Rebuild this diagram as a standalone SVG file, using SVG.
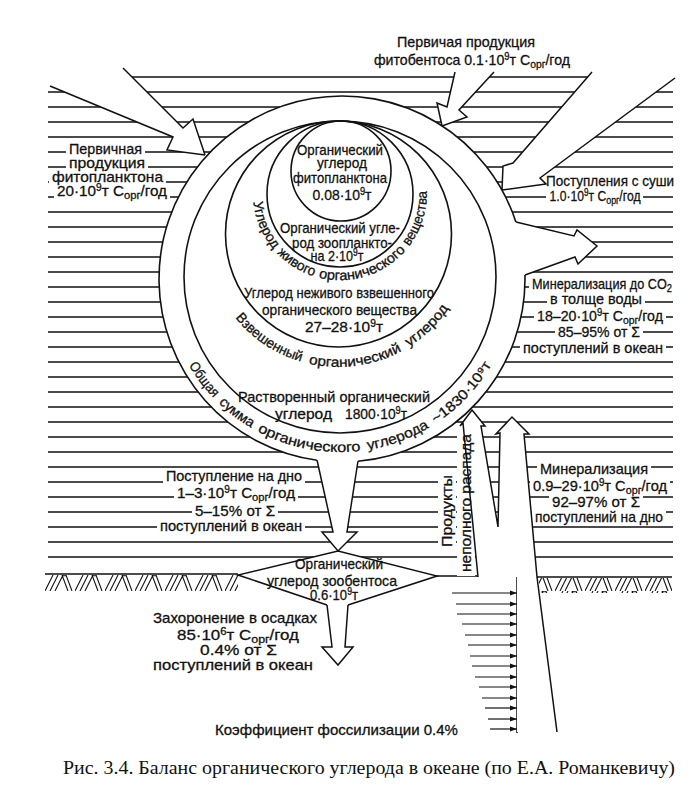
<svg xmlns="http://www.w3.org/2000/svg" width="694" height="787" viewBox="0 0 694 787">
<style>
.w{stroke:#111;stroke-width:1.3;fill:none}
.ln{stroke:#111;stroke-width:1.5;fill:none;stroke-linejoin:miter}
.wf{fill:#fff;stroke:none}
.cr{fill:none;stroke:#111;stroke-width:1.6}
.bg{fill:#fff}
.t{font-family:"Liberation Sans","DejaVu Sans",sans-serif;font-size:15px;fill:#111;stroke:#111;stroke-width:0.3}
.p{font-size:14px}
.m{text-anchor:middle}
.sup{font-size:10px}
.sub{font-size:11px}
.cap{font-family:"Liberation Serif","Times New Roman",serif;font-size:18px;fill:#111}
.ht{stroke:#111;stroke-width:1.1;fill:none}
.fa{stroke:#111;stroke-width:1.2}
</style>
<defs>
<pattern id="soil" patternUnits="userSpaceOnUse" x="45" y="575" width="30" height="16">
<path class="ht" d="M0,16 L8,0 M5,16 L13,0 M10,16 L18,0 M17,0 L23,16 M21,0 L27,16 M17,0.7 H21"/>
</pattern>
<marker id="ah" markerWidth="7" markerHeight="6" refX="7" refY="3" orient="auto" markerUnits="userSpaceOnUse"><path d="M0,0.5 L7,3 L0,5.5z" fill="#111"/></marker>
<path id="pB" d="M253.2,200.1 A87,87 0 0 0 426.9,190.96"/>
<path id="pD" d="M233.7,315.9 A133,133 0 0 0 450,306.4"/>
<path id="pE" d="M186.94,361.84 A175,175 0 0 0 493.06,361.84"/>
</defs>
<rect width="694" height="787" fill="#fff"/>

<g id="water">
<path class="w" d="M48 77H673M48 92H673M48 107H673M48 122H673M48 137H673M48 152H673M48 167H673M48 182H673M48 197H673M48 212H673M48 227H673M48 242H673M48 257H673M48 272H673M48 287H673M48 302H673M48 317H673M48 332H673M48 347H673M48 362H673M48 377H673M48 392H673M48 407H673M48 422H673M48 437H673M48 452H673M48 467H673M48 482H673M48 497H673M48 512H673M48 527H673M48 542H673M48 557H673"/>
</g>

<g id="sediment">
<rect x="45" y="575" width="193" height="16" fill="url(#soil)"/>
<polygon points="538.5,578 672,578 672,593 540,593" fill="url(#soil)"/>
<path class="ln" d="M45 574H238M437 576H517M537 577H672M517 577V733"/>
</g>

<g id="label-bg">
<rect class="bg" x="66" y="142" width="79" height="15"/>
<rect class="bg" x="66" y="156" width="82" height="15"/>
<rect class="bg" x="49" y="170" width="117" height="15"/>
<rect class="bg" x="54" y="184" width="116" height="15"/>
<rect class="bg" x="543" y="174" width="133" height="15"/>
<rect class="bg" x="546" y="189" width="97" height="15"/>
<rect class="bg" x="529" y="277" width="147" height="15"/>
<rect class="bg" x="547" y="292" width="98" height="15"/>
<rect class="bg" x="534" y="309" width="132" height="15"/>
<rect class="bg" x="555" y="325" width="88" height="15"/>
<rect class="bg" x="520" y="341" width="146" height="15"/>
<rect class="bg" x="537" y="462" width="114" height="15"/>
<rect class="bg" x="530" y="479" width="140" height="15"/>
<rect class="bg" x="549" y="495" width="94" height="15"/>
<rect class="bg" x="532" y="510" width="134" height="15"/>
<rect class="bg" x="163" y="469" width="142" height="15"/>
<rect class="bg" x="174" y="486" width="124" height="15"/>
<rect class="bg" x="192" y="504" width="86" height="15"/>
<rect class="bg" x="157" y="519" width="148" height="15"/>
<rect class="bg" x="438" y="472" width="18" height="78"/>
<rect class="bg" x="457" y="430" width="18" height="146"/>
</g>

<g id="connectors">
<polygon class="wf" points="40,82 173,137 167,150 205,155 193,119 183,128 103,48 40,48"/>
<polyline class="ln" points="50,86 173,137 167,150 205,155"/>
<polyline class="ln" points="123,68 183,128 193,119 205,155"/>
<polygon class="wf" points="455,72 447,107 437,103 442,126 467,117 459,110 494,72"/>
<polyline class="ln" points="455,72 447,107 437,103 442,126 467,117 459,110 494,72"/>
<polygon class="wf" points="602,60 513,163 503,166 502,190 546,184 540,178 699,60"/>
<polyline class="ln" points="592,72 513,163 503,166 502,190"/>
<polyline class="ln" points="675,78 540,178 546,184 502,190"/>
<polygon class="wf" points="516,222 574,236 577,230 597,246 578,264 575,257 525,275 495,250"/>
<polyline class="ln" points="516,222 574,236 577,230 597,246 578,264 575,257 525,275"/>
<polygon class="wf" points="317,460 333,532 322,532 338,551 357,532 347,532 358,461 338,445"/>
<polyline class="ln" points="317,460 333,532 322,532 338,551 357,532 347,532 358,461"/>
<polygon class="wf" points="327,605 332,647 322,647 338,665 353,647 345,647 348,605 338,596"/>
<polyline class="ln" points="327,605 332,647 322,647 338,665 353,647 345,647 348,605"/>
<polygon class="wf" points="478,577 463,423 460,426 472,410 485,426 481,426 498,527 500,433 496,434 512,417 529,434 524,434 537,577 557,732 517,732 517,577"/>
<polyline class="ln" points="478,577 463,423 460,426 472,410 485,426 481,426 498,527 500,433 496,434 512,417 529,434 524,434 537,577 557,732"/>
<g id="fossil-arrows">
<line class="fa" x1="452" y1="593" x2="517" y2="593" marker-end="url(#ah)"/>
<line class="fa" x1="456" y1="604" x2="517" y2="604" marker-end="url(#ah)"/>
<line class="fa" x1="457" y1="614" x2="517" y2="614" marker-end="url(#ah)"/>
<line class="fa" x1="462" y1="624" x2="517" y2="624" marker-end="url(#ah)"/>
<line class="fa" x1="465" y1="635" x2="517" y2="635" marker-end="url(#ah)"/>
<line class="fa" x1="468" y1="645" x2="517" y2="645" marker-end="url(#ah)"/>
<line class="fa" x1="470" y1="656" x2="517" y2="656" marker-end="url(#ah)"/>
<line class="fa" x1="472" y1="666" x2="517" y2="666" marker-end="url(#ah)"/>
<line class="fa" x1="475" y1="677" x2="517" y2="677" marker-end="url(#ah)"/>
<line class="fa" x1="479" y1="687" x2="517" y2="687" marker-end="url(#ah)"/>
<line class="fa" x1="482" y1="698" x2="517" y2="698" marker-end="url(#ah)"/>
<line class="fa" x1="485" y1="708" x2="517" y2="708" marker-end="url(#ah)"/>
<line class="fa" x1="488" y1="719" x2="517" y2="719" marker-end="url(#ah)"/>
<line class="fa" x1="490" y1="729" x2="517" y2="729" marker-end="url(#ah)"/>
</g>
</g>

<g id="total-carbon">
<circle class="wf" cx="342" cy="279" r="183"/>
<path class="cr" d="M524.96,275 A183,183 0 0 1 357.95,461.3 M316.97,460.3 A183,183 0 1 1 515.9,222"/>
<text class="t p"><textPath href="#pE" startOffset="4" textLength="41" lengthAdjust="spacingAndGlyphs">Общая</textPath></text>
<text class="t p"><textPath href="#pE" startOffset="52" textLength="41" lengthAdjust="spacingAndGlyphs">сумма</textPath></text>
<text class="t p"><textPath href="#pE" startOffset="100" textLength="107" lengthAdjust="spacingAndGlyphs">органического</textPath></text>
<text class="t p"><textPath href="#pE" startOffset="214" textLength="66" lengthAdjust="spacingAndGlyphs">углерода</textPath></text>
<text class="t p"><textPath href="#pE" startOffset="287" textLength="82" lengthAdjust="spacingAndGlyphs">~1830·10⁹т</textPath></text>
</g>
<g id="dissolved-carbon">
<circle class="cr" cx="340" cy="277" r="156"/>
<text class="t m" x="334" y="402" textLength="192" lengthAdjust="spacingAndGlyphs">Растворенный органический</text>
<text class="t m" x="303.5" y="419" textLength="57" lengthAdjust="spacingAndGlyphs">углерод</text>
<text class="t m" x="376" y="419" textLength="62" lengthAdjust="spacingAndGlyphs">1800·10<tspan class="sup" dy="-5">9</tspan><tspan dy="5">т</tspan></text>
</g>
<g id="suspended-carbon">
<circle class="cr" cx="338.5" cy="234" r="113"/>
<text class="t p"><textPath href="#pD" startOffset="2.5" textLength="80" lengthAdjust="spacingAndGlyphs">Взвешенный</textPath></text>
<text class="t p"><textPath href="#pD" startOffset="90.5" textLength="96" lengthAdjust="spacingAndGlyphs">органический</textPath></text>
<text class="t p"><textPath href="#pD" startOffset="194.5" textLength="56" lengthAdjust="spacingAndGlyphs">углерод</textPath></text>
<text class="t m" x="339" y="298" textLength="190" lengthAdjust="spacingAndGlyphs">Углерод неживого взвешенного</text>
<text class="t m" x="339.5" y="315" textLength="155" lengthAdjust="spacingAndGlyphs">органического вещества</text>
<text class="t m" x="344" y="332" textLength="78" lengthAdjust="spacingAndGlyphs">27–28·10<tspan class="sup" dy="-5">9</tspan><tspan dy="5">т</tspan></text>
</g>
<g id="living-carbon">
<circle class="cr" cx="340" cy="194" r="73"/>
<text class="t p"><textPath href="#pB" startOffset="2" textLength="52" lengthAdjust="spacingAndGlyphs">Углерод</textPath></text>
<text class="t p"><textPath href="#pB" startOffset="59" textLength="44" lengthAdjust="spacingAndGlyphs">живого</textPath></text>
<text class="t p"><textPath href="#pB" startOffset="108" textLength="96" lengthAdjust="spacingAndGlyphs">органического</textPath></text>
<text class="t p"><textPath href="#pB" startOffset="209" textLength="59" lengthAdjust="spacingAndGlyphs">вещества</textPath></text>
<text class="t m" x="340" y="233" textLength="120" lengthAdjust="spacingAndGlyphs">Органический угле-</text>
<text class="t m" x="342" y="248" textLength="100" lengthAdjust="spacingAndGlyphs">род зоопланкто-</text>
<text class="t m" x="337" y="261" textLength="53" lengthAdjust="spacingAndGlyphs">на 2·10<tspan class="sup" dy="-5">9</tspan><tspan dy="5">т</tspan></text>
</g>
<g id="phytoplankton">
<circle class="cr" cx="341" cy="171" r="50"/>
<text class="t m" x="340" y="155" textLength="86" lengthAdjust="spacingAndGlyphs">Органический</text>
<text class="t m" x="342" y="168" textLength="50" lengthAdjust="spacingAndGlyphs">углерод</text>
<text class="t m" x="340" y="183" textLength="94" lengthAdjust="spacingAndGlyphs">фитопланктона</text>
<text class="t m" x="342" y="200" textLength="59" lengthAdjust="spacingAndGlyphs">0.08·10<tspan class="sup" dy="-5">9</tspan><tspan dy="5">т</tspan></text>
</g>
<g id="zoobenthos">
<path class="wf" d="M327,605 L238,575 L338,551 L437,576 L348,605"/>
<path class="ln" d="M327,605 L238,575 L338,551 L437,576 L348,605"/>
<text class="t m" x="339" y="569" textLength="88" lengthAdjust="spacingAndGlyphs">Органический</text>
<text class="t m" x="332" y="586" textLength="130" lengthAdjust="spacingAndGlyphs">углерод зообентоса</text>
<text class="t m" x="334" y="600" textLength="48" lengthAdjust="spacingAndGlyphs">0.6·10<tspan class="sup" dy="-5">9</tspan><tspan dy="5">т</tspan></text>
</g>

<g id="label-phytobenthos">
<text class="t m" x="466" y="47" textLength="138" lengthAdjust="spacingAndGlyphs">Первичая продукция</text>
<text class="t m" x="472" y="65" textLength="196" lengthAdjust="spacingAndGlyphs">фитобентоса 0.1·10<tspan class="sup" dy="-5">9</tspan><tspan dy="5">т С</tspan><tspan class="sub" dy="3">орг</tspan><tspan dy="-3">/год</tspan></text>
</g>
<g id="label-phytoplankton-production">
<text class="t m" x="105.5" y="154" textLength="73" lengthAdjust="spacingAndGlyphs">Первичная</text>
<text class="t m" x="107" y="168" textLength="76" lengthAdjust="spacingAndGlyphs">продукция</text>
<text class="t m" x="107.5" y="182" textLength="111" lengthAdjust="spacingAndGlyphs">фитопланктона</text>
<text class="t m" x="112" y="196" textLength="110" lengthAdjust="spacingAndGlyphs">20·10<tspan class="sup" dy="-5">9</tspan><tspan dy="5">т С</tspan><tspan class="sub" dy="3">орг</tspan><tspan dy="-3">/год</tspan></text>
</g>
<g id="label-land">
<text class="t m" x="610" y="186" textLength="128" lengthAdjust="spacingAndGlyphs">Поступления с суши</text>
<text class="t m" x="595" y="201" textLength="91" lengthAdjust="spacingAndGlyphs">1.0·10<tspan class="sup" dy="-5">9</tspan><tspan dy="5">т С</tspan><tspan class="sub" dy="3">орг</tspan><tspan dy="-3">/год</tspan></text>
</g>
<g id="label-mineralization-water">
<text class="t m" x="602" y="289" textLength="140" lengthAdjust="spacingAndGlyphs">Минерализация до CO<tspan class="sub" dy="3">2</tspan></text>
<text class="t m" x="596" y="304" textLength="92" lengthAdjust="spacingAndGlyphs">в толще воды</text>
<text class="t m" x="600" y="321" textLength="126" lengthAdjust="spacingAndGlyphs">18–20·10<tspan class="sup" dy="-5">9</tspan><tspan dy="5">т С</tspan><tspan class="sub" dy="3">орг</tspan><tspan dy="-3">/год</tspan></text>
<text class="t m" x="599" y="337" textLength="82" lengthAdjust="spacingAndGlyphs">85–95% от Σ</text>
<text class="t m" x="593" y="353" textLength="140" lengthAdjust="spacingAndGlyphs">поступлений в океан</text>
</g>
<g id="label-mineralization-bottom">
<text class="t m" x="594" y="474" textLength="108" lengthAdjust="spacingAndGlyphs">Минерализация</text>
<text class="t m" x="600" y="491" textLength="134" lengthAdjust="spacingAndGlyphs">0.9–29·10<tspan class="sup" dy="-5">9</tspan><tspan dy="5">т С</tspan><tspan class="sub" dy="3">орг</tspan><tspan dy="-3">/год</tspan></text>
<text class="t m" x="596" y="507" textLength="88" lengthAdjust="spacingAndGlyphs">92–97% от Σ</text>
<text class="t m" x="599" y="522" textLength="128" lengthAdjust="spacingAndGlyphs">поступлений на дно</text>
</g>
<g id="label-to-bottom">
<text class="t m" x="234" y="481" textLength="136" lengthAdjust="spacingAndGlyphs">Поступление на дно</text>
<text class="t m" x="236" y="498" textLength="118" lengthAdjust="spacingAndGlyphs">1–3·10<tspan class="sup" dy="-5">9</tspan><tspan dy="5">т С</tspan><tspan class="sub" dy="3">орг</tspan><tspan dy="-3">/год</tspan></text>
<text class="t m" x="235" y="516" textLength="80" lengthAdjust="spacingAndGlyphs">5–15% от Σ</text>
<text class="t m" x="231" y="531" textLength="142" lengthAdjust="spacingAndGlyphs">поступлений в океан</text>
</g>
<g id="label-decay-products">
<text class="t m" transform="translate(452,511) rotate(-90)" textLength="72" lengthAdjust="spacingAndGlyphs">Продукты</text>
<text class="t m" transform="translate(471,503) rotate(-90)" textLength="138" lengthAdjust="spacingAndGlyphs">неполного распада</text>
</g>
<g id="label-burial">
<text class="t m" x="235" y="623" textLength="164" lengthAdjust="spacingAndGlyphs">Захоронение в осадках</text>
<text class="t m" x="238" y="640" textLength="122" lengthAdjust="spacingAndGlyphs">85·10<tspan class="sup" dy="-5">6</tspan><tspan dy="5">т С</tspan><tspan class="sub" dy="3">орг</tspan><tspan dy="-3">/год</tspan></text>
<text class="t m" x="238.5" y="655" textLength="77" lengthAdjust="spacingAndGlyphs">0.4% от Σ</text>
<text class="t m" x="233" y="670" textLength="160" lengthAdjust="spacingAndGlyphs">поступлений в океан</text>
</g>
<g id="label-fossilization">
<text class="t m" x="336.5" y="735" textLength="243" lengthAdjust="spacingAndGlyphs">Коэффициент фоссилизации 0.4%</text>
</g>
<g id="caption">
<text class="cap m" x="369" y="774" textLength="612" lengthAdjust="spacingAndGlyphs">Рис. 3.4. Баланс органического углерода в океане (по Е.А. Романкевичу)</text>
</g>
</svg>
